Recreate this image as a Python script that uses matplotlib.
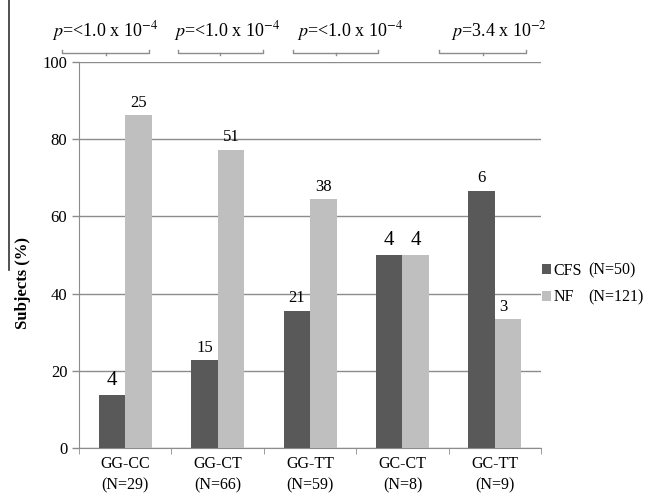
import numpy as np
import matplotlib
matplotlib.use('Agg')
from matplotlib import pyplot as plt
from matplotlib.lines import Line2D

plt.rcParams['font.family'] = 'Liberation Serif'
plt.rcParams['mathtext.fontset'] = 'stix'

# datos
genotypes = ['GG-CC\n(N=29)', 'GG-CT\n(N=66)', 'GG-TT\n(N=59)', 'GC-CT\n(N=8)', 'GC-TT\n(N=9)']
cfs_pct = [13.8, 22.7, 35.6, 50.0, 66.7]
nf_pct = [86.2, 77.3, 64.4, 50.0, 33.3]
cfs_n = ['4', '15', '21', '4', '6']
nf_n = ['25', '51', '38', '4', '3']
p_labels = [r'$p$=<1.0 x 10$^{-4}$', r'$p$=<1.0 x 10$^{-4}$', r'$p$=<1.0 x 10$^{-4}$', r'$p$=3.4 x 10$^{-2}$']
group_names = ['CFS', 'NF']
group_sizes = ['(N=50)', '(N=121)']

dark = '#595959'
light = '#bfbfbf'

fig = plt.figure(figsize=(6.48, 4.96), dpi=100)
ax = fig.add_axes([0.122, 0.097, 0.713, 0.778])

x = np.arange(len(genotypes))
w = 0.287
b1 = ax.bar(x - w / 2, cfs_pct, w, color=dark, label=group_names[0], zorder=3)
b2 = ax.bar(x + w / 2, nf_pct, w, color=light, label=group_names[1], zorder=3)

# etiquetas sobre las barras (los "4" van mas grandes)
for rect, lab in zip(b1, cfs_n):
    big = lab == '4'
    ax.text(rect.get_x() + rect.get_width() / 2, rect.get_height() + 1.2, lab,
            ha='center', va='bottom', fontsize=15 if big else 12)
for rect, lab in zip(b2, nf_n):
    big = lab == '4'
    ax.text(rect.get_x() + rect.get_width() / 2 - (0.05 if lab == '3' else 0),
            rect.get_height() + 1.2, lab,
            ha='center', va='bottom', fontsize=15 if big else 12)

ax.set_ylim(0, 100)
ax.set_xlim(-0.5, len(genotypes) - 0.5)
ax.set_yticks(np.arange(0, 101, 20))
ax.yaxis.grid(True, color='#8c8c8c', linewidth=1.0, zorder=0)
ax.set_axisbelow(True)
for s in ['top', 'right']:
    ax.spines[s].set_visible(False)
ax.spines['left'].set_color('#8c8c8c')
ax.spines['bottom'].set_color('#8c8c8c')
ax.tick_params(axis='y', labelsize=12, color='#8c8c8c', length=5, width=1)
ax.set_xticks(x)
ax.set_xticklabels(genotypes, fontsize=11.5, linespacing=1.45)
ax.tick_params(axis='x', length=0, pad=6)
# marcas entre categorias
ax.set_xticks(np.arange(-0.5, len(genotypes)), minor=True)
ax.tick_params(axis='x', which='minor', length=4, color='#8c8c8c')

fig.text(0.035, 0.43, 'Subjects (%)', rotation=90, ha='center', va='center',
         fontsize=12, fontweight='bold')

# valores p y corchetes
text_x = [-0.22, 1.10, 2.43, 4.05]
brackets = [(-0.68, 0.26), (0.57, 1.49), (1.82, 2.74), (3.40, 4.34)]
for tx, lab in zip(text_x, p_labels):
    ax.text(tx, 108, lab, ha='center', va='center', fontsize=13, clip_on=False)
for x0, x1 in brackets:
    xm = (x0 + x1) / 2
    ax.plot([x0, x0, x1, x1], [103.2, 102.3, 102.3, 103.2], color='#8c8c8c', lw=1, clip_on=False)
    ax.plot([xm, xm], [102.3, 101.7], color='#8c8c8c', lw=1, clip_on=False)

fig.add_artist(Line2D([0.014, 0.014], [1.0, 0.455], color='#333333', lw=1.2))

leg = ax.legend(loc='upper left', bbox_to_anchor=(0.836, 0.47), bbox_transform=fig.transFigure,
                frameon=False, fontsize=11.5, handlelength=0.6, handleheight=0.6, handletextpad=0.15,
                labelspacing=0.65, borderpad=0, borderaxespad=0)
fig.canvas.draw()
for t, n in zip(leg.get_texts(), group_sizes):
    bb = t.get_window_extent().transformed(fig.transFigure.inverted())
    fig.text(0.908, (bb.y0 + bb.y1) / 2, n, ha='left', va='center', fontsize=11.5)

fig.savefig('out.png', dpi=100)
